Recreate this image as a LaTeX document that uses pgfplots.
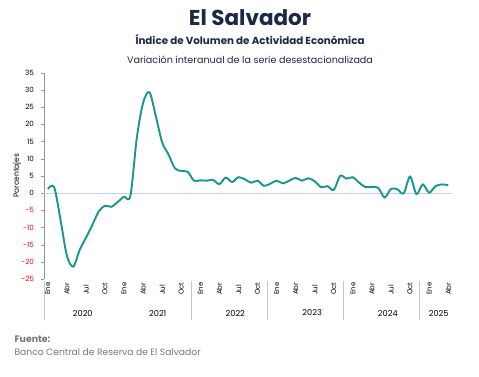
\documentclass[border=0pt]{standalone}
\usepackage{fontspec}
\setmainfont{Poppins}
\usepackage{pgfplots}
\pgfplotsset{compat=1.18}
\definecolor{tealc}{RGB}{22,150,142}
\definecolor{navy}{RGB}{27,40,70}
\definecolor{zeroc}{RGB}{196,210,228}
\definecolor{sepc}{RGB}{184,200,222}
\definecolor{graytxt}{RGB}{118,118,118}
\definecolor{axgray}{RGB}{150,150,150}
\pgfplotstableread{
m v
0 1.2
1 1.7
2 -7.8
3 -18.2
4 -21.4
5 -16.6
6 -13.0
7 -9.3
8 -5.4
9 -3.7
10 -4.0
11 -2.6
12 -1.1
13 -0.8
14 16.0
15 26.3
16 29.3
17 22.3
18 14.7
19 11.2
20 7.2
21 6.4
22 6.2
23 3.6
24 3.7
25 3.6
26 3.8
27 2.6
28 4.5
29 3.2
30 4.6
31 4.0
32 3.0
33 3.6
34 2.1
35 2.7
36 3.6
37 2.8
38 3.6
39 4.4
40 3.6
41 4.3
42 3.4
43 1.7
44 2.0
45 0.9
46 5.0
47 4.2
48 4.6
49 3.0
50 1.7
51 1.8
52 1.5
53 -1.3
54 1.2
55 1.1
56 -0.1
57 4.8
58 -0.3
59 2.5
60 0.1
61 2.0
62 2.5
63 2.3
}\datatable
\begin{document}
\begin{tikzpicture}[x=1pt,y=1pt]
\useasboundingbox (0pt,0pt) rectangle (479pt,377pt);
\node[font=\fontsize{21.5}{24}\selectfont\bfseries, text=navy] at (250pt,359pt) {El Salvador};
\node[font=\fontsize{10.3}{12}\selectfont\bfseries, text=navy] at (250pt,337pt) {Índice de Volumen de Actividad Económica};
\node[font=\fontsize{9.6}{11}\selectfont, text=navy] at (250pt,317pt) {Variación interanual de la serie desestacionalizada};
\node[anchor=west, font=\fontsize{9.4}{10}\selectfont\bfseries, text=graytxt] at (11pt,38pt) {Fuente:};
\node[anchor=west, font=\fontsize{9.2}{10}\selectfont, text=graytxt] at (11pt,25pt) {Banco Central de Reserva de El Salvador};
\begin{axis}[
  at={(44pt,98pt)}, anchor=south west,
  scale only axis, width=408pt, height=206.3pt,
  xmin=-0.6, xmax=63.6, ymin=-25, ymax=35,
  clip=false,
  axis y line*=left, axis x line*=bottom,
  axis line style={-},
  y axis line style={draw=axgray},
  x axis line style={draw=none},
  tick align=outside,
  major tick length=3pt,
  ytick={-25,-20,...,35},
  yticklabels={{\color{red}-25},{\color{red}-20},{\color{red}-15},{\color{red}-10},{\color{red}-5},0,5,10,15,20,25,30,35},
  y tick style={draw=axgray},
  yticklabel style={font=\fontsize{7.2}{8}\selectfont, xshift=-3.5pt},
  xtick={0,3,...,63},
  xticklabels={Ene,Abr,Jul,Oct,Ene,Abr,Jul,Oct,Ene,Abr,Jul,Oct,Ene,Abr,Jul,Oct,Ene,Abr,Jul,Oct,Ene,Abr},
  x tick style={draw=none},
  xticklabel style={rotate=90, anchor=west, font=\fontsize{7}{8}\selectfont},
  xticklabel shift=16.5pt,
  ylabel={Porcentajes},
  every axis y label/.style={at={(axis description cs:-0.066,0.5)}, rotate=90, anchor=center, font=\fontsize{7.5}{8}\selectfont},
]
\addplot[zeroc, line width=0.8pt] coordinates {(-0.6,0) (63.6,0)};
\addplot[tealc, line width=1.9pt, smooth, tension=0.5] table[x=m,y=v] {\datatable};
\draw[sepc, line width=0.6pt] (axis cs:-0.6,-25) ++(0pt,-2pt) -- ++(0pt,-39pt);
\draw[sepc, line width=0.6pt] (axis cs:22.5,-25) ++(0pt,-2pt) -- ++(0pt,-39pt);
\draw[sepc, line width=0.6pt] (axis cs:34.5,-25) ++(0pt,-2pt) -- ++(0pt,-39pt);
\draw[sepc, line width=0.6pt] (axis cs:46.5,-25) ++(0pt,-2pt) -- ++(0pt,-39pt);
\draw[sepc, line width=0.6pt] (axis cs:58.5,-25) ++(0pt,-2pt) -- ++(0pt,-39pt);
\node[font=\fontsize{8.2}{9}\selectfont] at (axis cs:5.5,-25) [yshift=-34pt] {2020};
\node[font=\fontsize{8.2}{9}\selectfont] at (axis cs:17.3,-25) [yshift=-34pt] {2021};
\node[font=\fontsize{8.2}{9}\selectfont] at (axis cs:29.5,-25) [yshift=-34pt] {2022};
\node[font=\fontsize{8.2}{9}\selectfont] at (axis cs:41.6,-25) [yshift=-34pt] {2023};
\node[font=\fontsize{8.2}{9}\selectfont] at (axis cs:53.5,-25) [yshift=-34pt] {2024};
\node[font=\fontsize{8.2}{9}\selectfont] at (axis cs:61.5,-25) [yshift=-34pt] {2025};
\end{axis}
\end{tikzpicture}
\end{document}
